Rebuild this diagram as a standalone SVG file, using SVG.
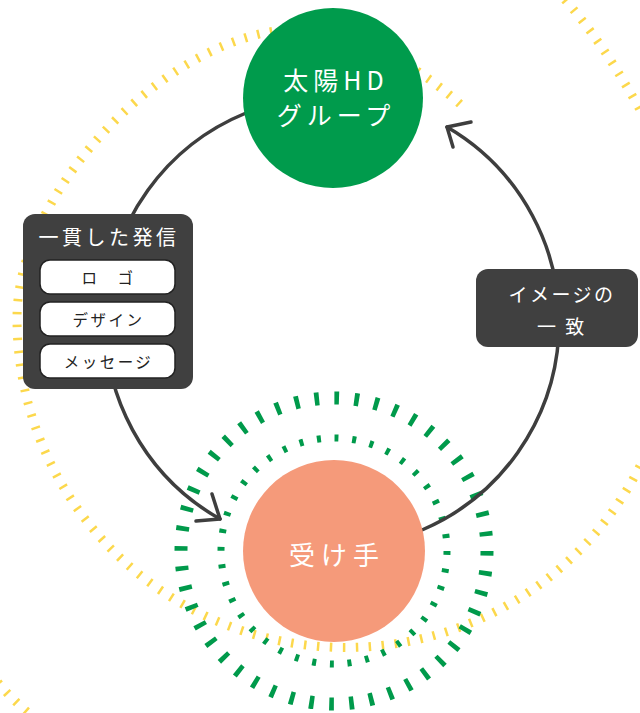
<svg xmlns="http://www.w3.org/2000/svg" width="640" height="713" viewBox="0 0 640 713">
<defs>
<style>
.ray{fill:none;stroke:#FCD84C;stroke-width:9;stroke-dasharray:2.5 10.5}
.ring{fill:none;stroke:#009A4B}
.conn{fill:none;stroke:#3E3E3E;stroke-width:3.5;stroke-linecap:round;stroke-linejoin:round}
.jp{font-family:"Noto Sans CJK JP","Noto Sans",sans-serif}
.w{fill:#FFFFFF}
.d{fill:#222222}
.box{fill:#404040}
.pill{fill:#FFFFFF;stroke:#222222;stroke-width:1.5}
</style>
</defs>
<g id="decor">
<path class="ray" d="M460,104 C430,77 365,30 300,29 C173,29 17,188 17,318 A329,329 0 1 0 673.7,289.3"/>
<path class="ray" d="M556,-10 Q604,40 652,132"/>
<path class="ray" d="M-10,672 Q8,698 42,724"/>
<circle class="ring" cx="334" cy="551" r="113" stroke-width="7" stroke-dasharray="4 13.75"/>
<circle class="ring" cx="334" cy="551" r="153" stroke-width="13" stroke-dasharray="4.7 15.33"/>
</g>
<g id="connectors">
<path class="conn" d="M246,113 A226,226 0 0 0 220,519"/>
<path class="conn" d="M212,494 L220,519 L196,521"/>
<path class="conn" d="M422,530 A226,226 0 0 0 447,127"/>
<path class="conn" d="M471,122 L447,127 L453,147"/>
</g>
<g id="taiyo">
<circle cx="333" cy="98" r="90" fill="#009B4C"/>
<text class="jp w" x="336" y="79" font-size="25" letter-spacing="5" text-anchor="middle" dominant-baseline="central">太陽HD</text>
<text class="jp w" x="336" y="114" font-size="25" letter-spacing="5" text-anchor="middle" dominant-baseline="central">グループ</text>
</g>
<g id="receiver">
<circle cx="334" cy="551" r="91" fill="#F59A7A"/>
<text class="jp w" x="337" y="553" font-size="26" letter-spacing="6" text-anchor="middle" dominant-baseline="central">受け手</text>
</g>
<g id="message">
<rect class="box" x="23" y="214" width="170" height="175" rx="12"/>
<text class="jp w" x="109" y="236" font-size="20" letter-spacing="3.5" text-anchor="middle" dominant-baseline="central">一貫した発信</text>
<rect class="pill" x="40" y="260" width="135" height="34" rx="10"/>
<text class="jp d" x="108.5" y="277" font-size="15.5" letter-spacing="2.5" text-anchor="middle" dominant-baseline="central">ロ　ゴ</text>
<rect class="pill" x="40" y="302" width="135" height="34" rx="10"/>
<text class="jp d" x="108.5" y="319" font-size="15.5" letter-spacing="2.5" text-anchor="middle" dominant-baseline="central">デザイン</text>
<rect class="pill" x="40" y="344" width="135" height="34" rx="10"/>
<text class="jp d" x="108.5" y="361" font-size="15.5" letter-spacing="2.5" text-anchor="middle" dominant-baseline="central">メッセージ</text>
</g>
<g id="image-match">
<rect class="box" x="476" y="269" width="162" height="78" rx="12"/>
<text class="jp w" x="562" y="293" font-size="19" letter-spacing="2.5" text-anchor="middle" dominant-baseline="central">イメージの</text>
<text class="jp w" x="562" y="325" font-size="19" letter-spacing="2.5" text-anchor="middle" dominant-baseline="central">一 致</text>
</g>
</svg>
